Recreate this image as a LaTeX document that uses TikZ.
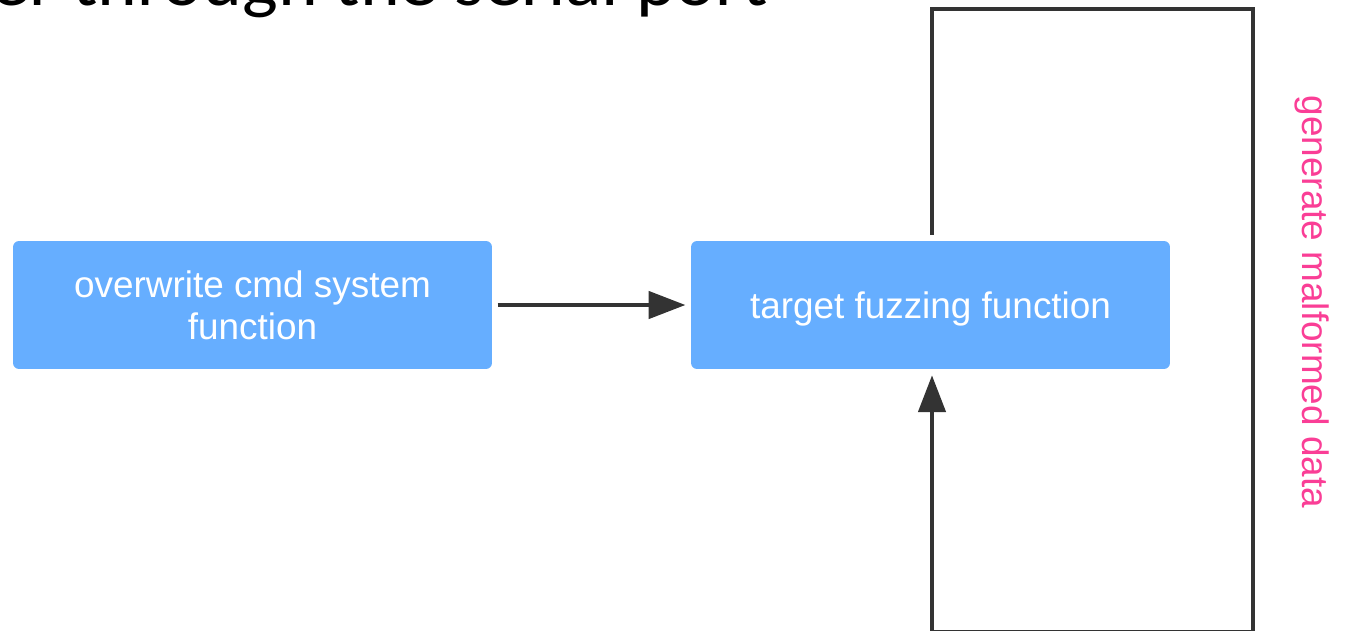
\documentclass[tikz,border=0pt]{standalone}
\usepackage{fontspec}
\setmainfont{Liberation Sans}
\newfontfamily\headfont[FakeStretch=1.05]{Carlito}
\usetikzlibrary{arrows.meta}

\definecolor{boxblue}{RGB}{102,174,255}
\definecolor{linegray}{RGB}{51,51,51}
\definecolor{labelpink}{RGB}{250,62,150}

\tikzset{
  procbox/.style={fill=boxblue, rounded corners=3.4pt, text=white,
    minimum width=9.58cm, minimum height=2.56cm, inner sep=0pt,
    align=center, text depth=0pt, font=\fontsize{21}{23.9}\selectfont},
  conn/.style={draw=linegray, line width=2.3pt,
    -{Triangle[length=21pt,width=15.5pt]}},
  looplabel/.style={text=labelpink, rotate=-90, inner sep=0pt,
    font=\fontsize{21}{24}\selectfont},
  headline/.style={anchor=base east, inner sep=0pt,
    font=\headfont\fontsize{41}{48}\selectfont}
}

\begin{document}
\begin{tikzpicture}[x=0.02cm, y=-0.02cm]
  \useasboundingbox (0,0) rectangle (1350,630);
  \clip (0,0) rectangle (1350,630);

  % heading line, partly above the page edge
  \node[headline] (head) at (768,5) {er through the serial port};

  % process boxes
  \node[procbox] (cmd) at (252.5,305) {overwrite cmd system\\function};
  \node[procbox] (target) at (930.5,305) {target fuzzing function};

  % corners of the feedback loop
  \coordinate (lt) at (932,9);
  \coordinate (rt) at (1253,9);
  \coordinate (rb) at (1253,632);
  \coordinate (lb) at (932,632);

  \draw[conn, shorten <=3pt, shorten >=3pt] (cmd) -- (target);
  \draw[conn, line join=miter, shorten <=3.4pt, shorten >=3.4pt]
    (lt |- target.north) -- (lt) -- (rt) -- (rb) -- (lb) -- (lb |- target.south);

  \node[looplabel] (gen) at (1312,302) {generate malformed data};
\end{tikzpicture}
\end{document}
